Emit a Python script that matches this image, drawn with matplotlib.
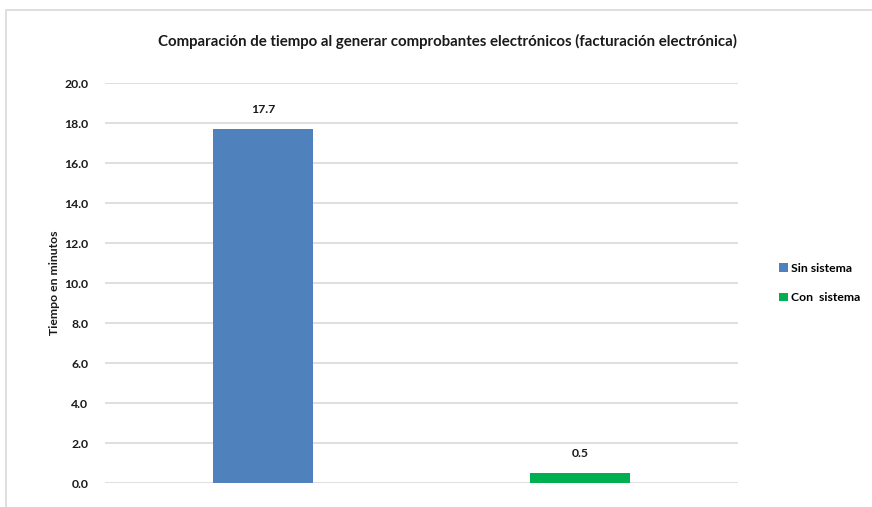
import matplotlib
matplotlib.use("Agg")
import matplotlib.pyplot as plt
from matplotlib.patches import Patch, Rectangle

categories = ["Sin sistema", "Con  sistema"]
values = [17.7, 0.5]
colors = ["#4F81BD", "#00B050"]
yticks = [0, 2, 4, 6, 8, 10, 12, 14, 16, 18, 20]

plt.rcParams["font.family"] = ["Lato", "DejaVu Sans"]
plt.rcParams["font.weight"] = "bold"

W, H = 872, 507
fig = plt.figure(figsize=(W / 100, H / 100), dpi=100)

# outer chart frame (partially cut off in the original screenshot)
fig.patches.append(Rectangle((6 / W, -0.1), 1.2, (H - 10) / H + 0.1,
                             transform=fig.transFigure, fill=False,
                             edgecolor="#D9D9D9", linewidth=1.2))

ax = fig.add_axes([105 / W, (H - 483) / H, (738 - 105) / W, 400 / H])
x = range(len(categories))
bars = ax.bar(x, values, width=0.316, color=colors, zorder=3)
ax.bar_label(bars, labels=[f"{v:.1f}" for v in values], padding=10,
             fontsize=8.8, fontweight="bold", color="#1a1a1a")

ax.set_xlim(-0.5, 1.5)
ax.set_ylim(0, 20)
ax.set_yticks(yticks)
ax.set_yticklabels([f"{t:.1f}" for t in yticks], fontsize=8.8,
                   fontweight="bold", color="#1a1a1a")
ax.set_xticks([])
ax.tick_params(axis="y", length=0, pad=12)
ax.grid(axis="y", color="#D9D9D9", linewidth=1.2, zorder=0)
for s in ax.spines.values():
    s.set_visible(False)
ax.set_ylabel("Tiempo en minutos", fontsize=8.8, fontweight="bold",
              color="#1a1a1a", labelpad=3)

fig.text(447 / W, 1 - 41 / H,
         "Comparación de tiempo al generar comprobantes electrónicos (facturación electrónica)",
         ha="center", va="center", fontsize=10.8, fontweight="bold", color="#1a1a1a")

handles = [Patch(facecolor=c) for c in colors]
fig.legend(handles, categories, loc="center left",
           bbox_to_anchor=(768 / W, 1 - 283 / H), frameon=False,
           handlelength=0.7, handleheight=0.7, handletextpad=0.3,
           labelspacing=1.5, prop={"size": 8.8, "weight": "bold"})

fig.savefig("out.png", dpi=100)
